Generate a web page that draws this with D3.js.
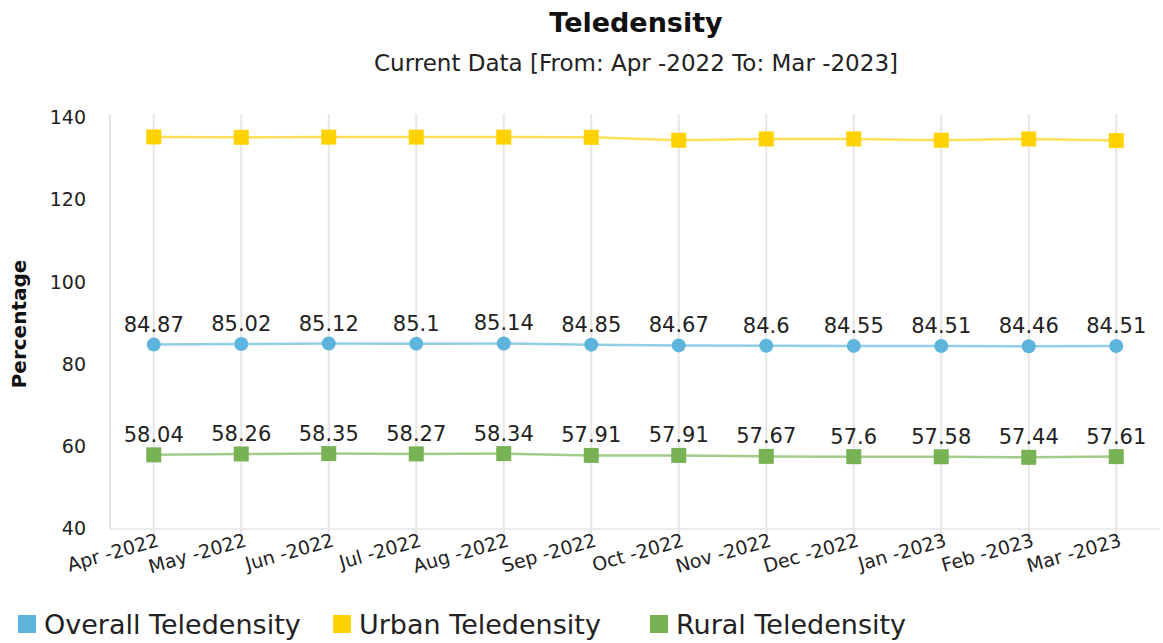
<!DOCTYPE html>
<html><head><meta charset="utf-8">
<script src="https://cdn.jsdelivr.net/npm/d3@7"></script>
<style>body{margin:0;background:#fff;} svg{display:block;}</style>
</head><body>
<svg id="chart" width="1163" height="643"></svg>
<script>
const categories = ["Apr -2022","May -2022","Jun -2022","Jul -2022","Aug -2022","Sep -2022","Oct -2022","Nov -2022","Dec -2022","Jan -2023","Feb -2023","Mar -2023"];
const overall = [84.87,85.02,85.12,85.1,85.14,84.85,84.67,84.6,84.55,84.51,84.46,84.51];
const urban = [135.4,135.3,135.35,135.35,135.35,135.3,134.6,134.9,134.9,134.6,134.9,134.5];
const rural = [58.04,58.26,58.35,58.27,58.34,57.91,57.91,57.67,57.6,57.58,57.44,57.61];
const yTicks = [40,60,80,100,120,140];
const seriesNames = ["Overall Teledensity","Urban Teledensity","Rural Teledensity"];
const seriesColors = ["#5DB5DD","#FFD200","#77B255"];
const lineColors = ["#93CDE8","#FFDE5A","#A3CC8A"];

(function(){
const font = "Verdana, 'DejaVu Sans', sans-serif";
const svg = d3.select("#chart");
const pL = 110, pR = 1160, pT = 118, pB = 529;
const x = d3.scalePoint().domain(categories).range([pL, pR]).padding(0.5);
const y = d3.scaleLinear().domain([40,140]).range([pB, pT]);

svg.append("text").attr("x",636).attr("y",32).attr("text-anchor","middle")
  .attr("font-family",font).attr("font-weight","bold").attr("font-size",27).attr("fill","#111").text("Teledensity");
svg.append("text").attr("x",636).attr("y",71).attr("text-anchor","middle")
  .attr("font-family",font).attr("font-size",23).attr("fill","#222").text("Current Data [From: Apr -2022 To: Mar -2023]");

const g = svg.append("g");
g.append("line").attr("x1",pL).attr("x2",pL).attr("y1",pT-4).attr("y2",pB).attr("stroke","#e6e6e6").attr("stroke-width",2);
categories.forEach(c=>{
  g.append("line").attr("x1",x(c)).attr("x2",x(c)).attr("y1",pT-4).attr("y2",pB+6).attr("stroke","#e6e6e6").attr("stroke-width",2);
});
g.append("line").attr("x1",pL).attr("x2",pR).attr("y1",pB).attr("y2",pB).attr("stroke","#e6e6e6").attr("stroke-width",1.5);

const yAxis = d3.axisLeft(y).tickValues(yTicks).tickSize(0).tickPadding(0);
const ya = svg.append("g").attr("transform",`translate(86,0)`).call(yAxis);
ya.select(".domain").remove();
ya.selectAll("text").attr("font-family",font).attr("font-size",19).attr("fill","#222").attr("dy","0.3em");

svg.append("text").attr("transform","translate(26,324) rotate(-90)").attr("text-anchor","middle")
  .attr("font-family",font).attr("font-weight","bold").attr("font-size",20).attr("fill","#111").text("Percentage");

const xAxis = d3.axisBottom(x).tickSize(0).tickPadding(0);
const xa = svg.append("g").attr("transform",`translate(0,${pB})`).call(xAxis);
xa.select(".domain").remove();
xa.selectAll("text").attr("font-family",font).attr("font-size",19).attr("fill","#222")
  .attr("text-anchor","end").attr("transform","translate(2,4) rotate(-16)").attr("dy","0.7em");

const data = [overall, urban, rural];
const line = d3.line().x((d,i)=>x(categories[i])).y(d=>y(d));
data.forEach((vals,si)=>{
  svg.append("path").datum(vals).attr("d",line).attr("fill","none").attr("stroke",lineColors[si]).attr("stroke-width",2.5);
});
svg.append("g").selectAll("circle").data(overall).join("circle")
  .attr("cx",(d,i)=>x(categories[i])).attr("cy",d=>y(d)).attr("r",7).attr("fill",seriesColors[0]);
[[urban,1],[rural,2]].forEach(([vals,si])=>{
  svg.append("g").selectAll("rect").data(vals).join("rect")
    .attr("x",(d,i)=>x(categories[i])-7.5).attr("y",d=>y(d)-7.5).attr("width",15).attr("height",15).attr("fill",seriesColors[si]);
});
[overall, rural].forEach(vals=>{
  svg.append("g").selectAll("text").data(vals).join("text")
    .attr("x",(d,i)=>x(categories[i])).attr("y",d=>y(d)-13).attr("text-anchor","middle")
    .attr("font-family",font).attr("font-size",21).attr("fill","#222").text(d=>d);
});

const legX = [18, 333, 650];
seriesNames.forEach((n,i)=>{
  svg.append("rect").attr("x",legX[i]).attr("y",615).attr("width",18).attr("height",18).attr("fill",seriesColors[i]);
  svg.append("text").attr("x",legX[i]+26).attr("y",634).attr("font-family",font).attr("font-size",27).attr("fill","#222").text(n);
});
})();
</script>
</body></html>
